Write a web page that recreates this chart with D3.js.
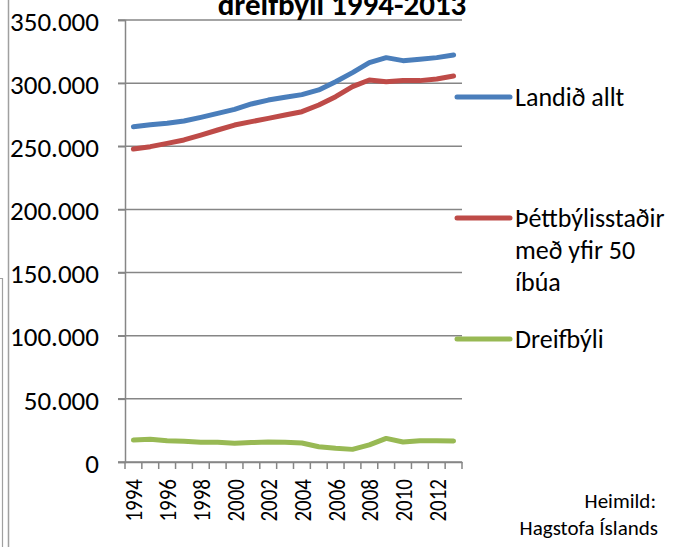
<!DOCTYPE html>
<html>
<head>
<meta charset="utf-8">
<script src="https://cdn.jsdelivr.net/npm/d3@7"></script>
<style>
  html, body { margin: 0; padding: 0; background: #fff; }
  svg { display: block; }
  text { font-family: Carlito, Lato, "Noto Sans", sans-serif; fill: #000; }
</style>
</head>
<body>
<svg id="chart" width="677" height="547"></svg>
<script>
const years = d3.range(1994, 2014);
const yearLabels = ["1994","1996","1998","2000","2002","2004","2006","2008","2010","2012"];
const landidAllt = [265.5,267.1,268.2,270.0,272.9,276.1,279.2,283.5,286.6,288.8,290.9,294.6,301.1,308.3,316.2,320.2,317.8,318.9,320.2,322.3].map(v => v * 1000);
const thettbyli = [247.8,249.7,252.3,255.0,258.9,262.9,266.8,269.5,272.1,274.8,277.4,282.7,289.3,297.2,302.5,301.1,302.0,302.0,303.3,305.6].map(v => v * 1000);
const dreifbyli = [17.4,18.0,16.9,16.4,15.6,15.6,14.8,15.4,15.8,15.6,15.0,12.1,10.8,10.0,13.5,18.7,15.8,16.9,16.9,16.6].map(v => v * 1000);
const yTicks = [0,50000,100000,150000,200000,250000,300000,350000];
const seriesNames = ["Landið allt", "Þéttbýlisstaðir með yfir 50 íbúa", "Dreifbýli"];
const legendLines = [["Landið allt"], ["Þéttbýlisstaðir", "með yfir 50", "íbúa"], ["Dreifbýli"]];
const colors = ["#4a7ebb", "#be4b48", "#98b954"];
const titleText = "dreifbýli 1994-2013";
const sourceLines = ["Heimild:", "Hagstofa Íslands"];

const svg = d3.select("#chart");
const axisColor = "#868686";

const x = d3.scaleBand().domain(years).range([125, 462]);
const y = d3.scaleLinear().domain([0, 350000]).range([462, 20]);

const fmt = v => v === 0 ? "0" : d3.format(",")(v).replace(/,/g, ".");

// left border lines
svg.append("line").attr("x1", 8.5).attr("x2", 8.5).attr("y1", 0).attr("y2", 547)
  .attr("stroke", "#a0a0a0").attr("stroke-width", 1.5);
svg.append("path").attr("d", "M0,278.5 H2.5 V547").attr("fill", "none")
  .attr("stroke", "#a0a0a0").attr("stroke-width", 1.2);

// gridlines
svg.append("g").selectAll("line").data(yTicks).join("line")
  .attr("x1", 118).attr("x2", 462)
  .attr("y1", d => y(d)).attr("y2", d => y(d))
  .attr("stroke", axisColor).attr("stroke-width", 1.5);

// y axis
const yAxis = d3.axisLeft(y).tickValues(yTicks).tickFormat(fmt).tickSize(7).tickPadding(19);
const gy = svg.append("g").attr("transform", "translate(125,0)").call(yAxis);
gy.select(".domain").attr("stroke", axisColor).attr("stroke-width", 1.5);
gy.selectAll(".tick line").attr("stroke", axisColor).attr("stroke-width", 1.5);
gy.selectAll(".tick text").style("font-size", "27px").attr("fill", "#000").attr("dy", "0.38em");

// x axis
const xAxis = d3.axisBottom(x).tickValues([]).tickSizeOuter(0);
const gx = svg.append("g").attr("transform", "translate(0,462)").call(xAxis);
gx.select(".domain").attr("stroke", axisColor).attr("stroke-width", 1.5);
const bounds = years.map(d => x(d)).concat([x.range()[1]]);
gx.selectAll("line.tk").data(bounds).join("line").attr("class", "tk")
  .attr("x1", d => d).attr("x2", d => d).attr("y1", 0).attr("y2", 7)
  .attr("stroke", axisColor).attr("stroke-width", 1.5);
gx.selectAll("text.lbl").data(yearLabels).join("text").attr("class", "lbl")
  .attr("transform", d => `translate(${x(+d) + x.bandwidth() / 2},17) rotate(-90) scale(0.84,1)`)
  .attr("text-anchor", "end").attr("dy", "0.36em")
  .style("font-size", "25px").text(d => d);

// lines
const line = d3.line().x((d, i) => x(years[i]) + x.bandwidth() / 2).y(d => y(d));
[landidAllt, thettbyli, dreifbyli].forEach((s, k) => {
  svg.append("path").datum(s).attr("d", line).attr("fill", "none")
    .attr("stroke", colors[k]).attr("stroke-width", 5)
    .attr("stroke-linejoin", "round").attr("stroke-linecap", "round");
});

// legend
const legY = [97, 218, 339];
legendLines.forEach((lines, k) => {
  svg.append("line").attr("x1", 457).attr("x2", 510).attr("y1", legY[k]).attr("y2", legY[k])
    .attr("stroke", colors[k]).attr("stroke-width", 5).attr("stroke-linecap", "round");
  const t = svg.append("text").attr("x", 515).attr("y", legY[k] + 9).style("font-size", "26px");
  lines.forEach((ln, j) => {
    t.append("tspan").attr("x", 515).attr("dy", j === 0 ? 0 : 32).text(ln);
  });
});

// title (partially cut at top, as in the reference)
svg.append("text").attr("x", 342).attr("y", 15).attr("text-anchor", "middle")
  .style("font-size", "31px").style("font-weight", "bold").text(titleText);

// source
svg.append("text").attr("x", 656).attr("y", 508).attr("text-anchor", "end")
  .style("font-size", "21px").text(sourceLines[0]);
svg.append("text").attr("x", 658).attr("y", 535).attr("text-anchor", "end")
  .style("font-size", "21px").text(sourceLines[1]);
</script>
</body>
</html>
